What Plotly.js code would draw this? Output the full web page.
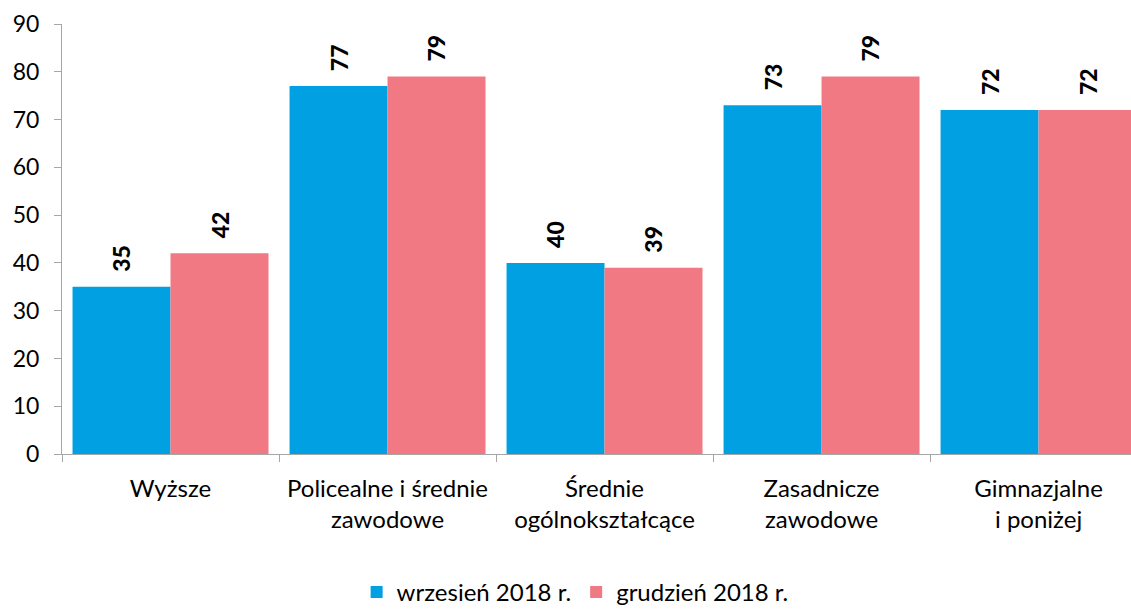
<!DOCTYPE html>
<html>
<head>
<meta charset="utf-8">
<script src="https://cdn.plot.ly/plotly-3.0.1.min.js"></script>
<style>html,body{margin:0;padding:0;background:#fff;}#chart{width:1131px;height:611px;}</style>
</head>
<body>
<div id="chart"></div>
<script>
const categories = ["Wyższe", "Policealne i średnie<br>zawodowe", "Średnie<br>ogólnokształcące", "Zasadnicze<br>zawodowe", "Gimnazjalne<br>i poniżej"];
const seriesNames = ["wrzesień 2018 r.", "grudzień 2018 r."];
const wrzesien = [35, 77, 40, 73, 72];
const grudzien = [42, 79, 39, 79, 72];
const yTicks = [0, 10, 20, 30, 40, 50, 60, 70, 80, 90];

const FONT = "Lato, 'Open Sans', sans-serif";
const BLUE = "#00A0E3";
const PINK = "#F07983";
const AXIS = "#A6A6A6";

const traces = [
  {type: "bar", name: seriesNames[0], x: categories, y: wrzesien, marker: {color: BLUE}, hoverinfo: "skip"},
  {type: "bar", name: seriesNames[1], x: categories, y: grudzien, marker: {color: PINK}, hoverinfo: "skip"}
];

const annotations = [];
[wrzesien, grudzien].forEach((vals, s) => {
  vals.forEach((v, i) => {
    annotations.push({
      x: categories[i], y: v, xref: "x", yref: "y",
      text: String(v), showarrow: false, textangle: -90,
      xanchor: "center", yanchor: "bottom",
      xshift: s === 0 ? -49 : 49, yshift: 13,
      font: {family: FONT, size: 23, color: "#000", weight: 900}
    });
  });
});

const layout = {
  width: 1131, height: 611,
  margin: {l: 62, r: 0, t: 24, b: 157, pad: 0, autoexpand: false},
  paper_bgcolor: "#fff", plot_bgcolor: "#fff",
  font: {family: FONT, size: 24, color: "#000"},
  barmode: "group", bargap: 0.097, bargroupgap: 0,
  showlegend: true,
  legend: {orientation: "h", x: 0.48, xanchor: "center", y: -0.322, yanchor: "middle",
           font: {family: FONT, size: 24, color: "#000"}, itemsizing: "constant"},
  xaxis: {
    type: "category", range: [-0.5, 4.426], fixedrange: true, automargin: false,
    tickangle: 0, ticklabelstandoff: 13,
    showline: true, linecolor: AXIS, linewidth: 1,
    ticks: "outside", tickson: "boundaries", ticklen: 7, tickcolor: AXIS,
    showgrid: false, zeroline: false,
    tickfont: {family: FONT, size: 24, color: "#000"}
  },
  yaxis: {
    range: [0, 90], tickmode: "array", tickvals: yTicks, ticktext: yTicks.map(String),
    automargin: false,
    showline: true, linecolor: AXIS, linewidth: 1,
    ticks: "outside", ticklen: 7, tickcolor: AXIS,
    showgrid: false, zeroline: false, ticklabelstandoff: 10,
    tickfont: {family: FONT, size: 23, color: "#000"}
  },
  annotations: annotations
};

Plotly.newPlot("chart", traces, layout, {staticPlot: true, displayModeBar: false});
</script>
</body>
</html>
